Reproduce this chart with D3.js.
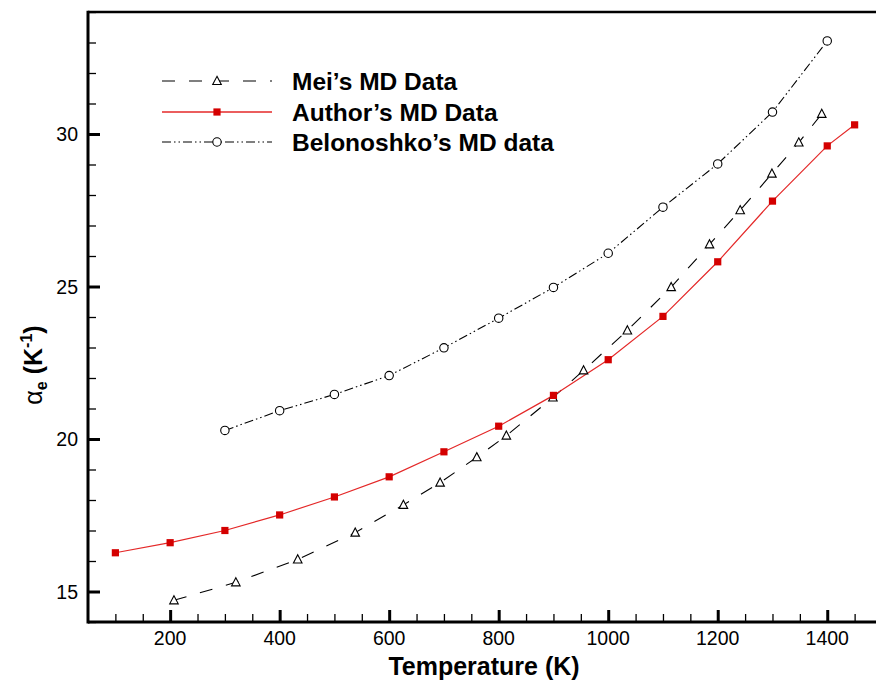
<!DOCTYPE html>
<html>
<head>
<meta charset="utf-8">
<script src="https://cdn.jsdelivr.net/npm/d3@7"></script>
<style>
  html, body { margin: 0; padding: 0; background: #fff; }
  svg { display: block; font-family: "Liberation Sans", Arial, sans-serif; }
</style>
</head>
<body>
<svg id="chart" width="876" height="682"></svg>
<script>
// ---- Data ----
const meiT = [207, 320, 433, 538, 626, 693, 760, 814, 899, 955, 1035, 1115, 1185, 1241, 1299, 1348, 1390];
const meiV = [14.71, 15.30, 16.05, 16.93, 17.84, 18.57, 19.40, 20.11, 21.36, 22.25, 23.56, 24.98, 26.38, 27.50, 28.70, 29.72, 30.66];

const authorT = [100, 200, 300, 400, 500, 600, 700, 800, 900, 1000, 1100, 1200, 1300, 1400, 1450];
const authorV = [16.27, 16.60, 17.00, 17.51, 18.10, 18.76, 19.58, 20.42, 21.43, 22.60, 24.02, 25.81, 27.80, 29.61, 30.30];

const belT = [300, 400, 500, 600, 700, 800, 900, 1000, 1100, 1200, 1300, 1400];
const belV = [20.28, 20.93, 21.46, 22.08, 22.99, 23.96, 24.97, 26.09, 27.60, 29.02, 30.72, 33.05];

const xTickValues = [200, 400, 600, 800, 1000, 1200, 1400];
const yTickValues = [15, 20, 25, 30];
const legendLabels = ["Mei\u2019s MD Data", "Author\u2019s MD Data", "Belonoshko\u2019s MD data"];

// ---- Layout ----
const svg = d3.select("#chart");
const pL = 88, pR = 882, pT = 12, pB = 622;
const x = d3.scaleLinear().domain([50, 1500]).range([pL, pR]);
const y = d3.scaleLinear().domain([14, 34]).range([pB, pT]);

const zip = (a, b) => a.map((t, i) => [t, b[i]]);
const mei = zip(meiT, meiV), author = zip(authorT, authorV), bel = zip(belT, belV);

const line = d3.line().x(d => x(d[0])).y(d => y(d[1])).curve(d3.curveLinear);
const g = svg.append("g");

// Series lines
g.append("path").datum(bel).attr("d", line).attr("fill", "none")
  .attr("stroke", "#000").attr("stroke-width", 1.1).attr("stroke-dasharray", "9,3,1.5,3,1.5,3");
g.append("path").datum(mei).attr("d", line).attr("fill", "none")
  .attr("stroke", "#000").attr("stroke-width", 1.1).attr("stroke-dasharray", "13,14");
g.append("path").datum(author).attr("d", line).attr("fill", "none")
  .attr("stroke", "#e42828").attr("stroke-width", 1.2);

// Markers
const triPath = (cx, cy, s) => `M${cx},${cy - s * 0.6}L${cx + s * 0.55},${cy + s * 0.45}L${cx - s * 0.55},${cy + s * 0.45}Z`;
g.selectAll(".tri").data(mei).enter().append("path").attr("class", "tri")
  .attr("d", d => triPath(x(d[0]), y(d[1]), 7.8))
  .attr("fill", "#fff").attr("stroke", "#000").attr("stroke-width", 1.1);
g.selectAll(".circ").data(bel).enter().append("circle").attr("class", "circ")
  .attr("cx", d => x(d[0])).attr("cy", d => y(d[1])).attr("r", 4.2)
  .attr("fill", "#fff").attr("stroke", "#000").attr("stroke-width", 1.1);
g.selectAll(".sq").data(author).enter().append("rect").attr("class", "sq")
  .attr("x", d => x(d[0]) - 3.6).attr("y", d => y(d[1]) - 3.6)
  .attr("width", 7.2).attr("height", 7.2).attr("fill", "#d40000");

// Axes
const xAxis = d3.axisTop(x).tickValues(xTickValues).tickSize(12).tickFormat("");
const xMinor = d3.axisTop(x).tickValues(d3.range(100, 1500, 50).filter(v => v % 200 !== 0)).tickSize(8).tickFormat("");
const yAxis = d3.axisRight(y).tickValues(yTickValues).tickSize(12).tickFormat("");
const yMinor = d3.axisRight(y).tickValues(d3.range(14, 35, 1).filter(v => v % 5 !== 0)).tickSize(8).tickFormat("");

function styleAxis(sel, w) {
  sel.select(".domain").remove();
  sel.selectAll("line").attr("stroke", "#000").attr("stroke-width", w);
}
svg.append("g").attr("transform", `translate(0,${pB})`).call(xAxis).call(s => styleAxis(s, 3));
svg.append("g").attr("transform", `translate(0,${pB})`).call(xMinor).call(s => styleAxis(s, 1.3));
svg.append("g").attr("transform", `translate(${pL},0)`).call(yAxis).call(s => styleAxis(s, 3));
svg.append("g").attr("transform", `translate(${pL},0)`).call(yMinor).call(s => styleAxis(s, 1.3));

// Frame lines
svg.append("line").attr("x1", pL).attr("x2", 876).attr("y1", pB).attr("y2", pB).attr("stroke", "#000").attr("stroke-width", 3);
svg.append("line").attr("x1", pL).attr("x2", 876).attr("y1", pT).attr("y2", pT).attr("stroke", "#000").attr("stroke-width", 2.5);
svg.append("line").attr("x1", pL).attr("x2", pL).attr("y1", pT - 1.2).attr("y2", pB + 1.5).attr("stroke", "#000").attr("stroke-width", 3);

// Tick labels
svg.append("g").selectAll("text").data(xTickValues).enter().append("text")
  .attr("x", d => x(d)).attr("y", 645).attr("text-anchor", "middle")
  .attr("font-size", 19.5).attr("fill", "#000").text(d => d);
svg.append("g").selectAll("text").data(yTickValues).enter().append("text")
  .attr("x", 78).attr("y", d => y(d) + 7).attr("text-anchor", "end")
  .attr("font-size", 19.5).attr("fill", "#000").text(d => d);

// Axis titles
svg.append("text").attr("x", 484).attr("y", 675).attr("text-anchor", "middle")
  .attr("font-size", 25).attr("font-weight", "bold").text("Temperature (K)");

const yt = svg.append("text").attr("transform", "translate(42,365) rotate(-90)")
  .attr("text-anchor", "middle").attr("font-size", 25).attr("font-weight", "bold");
yt.append("tspan").attr("font-weight", "normal").text("\u03b1");
yt.append("tspan").attr("font-size", 16).attr("dy", 5).text("e");
yt.append("tspan").attr("dy", -5).text(" (K");
yt.append("tspan").attr("font-size", 16).attr("dy", -10).text("-1");
yt.append("tspan").attr("dy", 10).text(")");

// Legend
const legY = [81, 112, 142];
const lg = svg.append("g");
lg.append("line").attr("x1", 162).attr("x2", 272).attr("y1", legY[0]).attr("y2", legY[0])
  .attr("stroke", "#000").attr("stroke-width", 1.1).attr("stroke-dasharray", "13,14");
lg.append("path").attr("d", triPath(217, legY[0], 7.8)).attr("fill", "#fff").attr("stroke", "#000").attr("stroke-width", 1.1);
lg.append("line").attr("x1", 162).attr("x2", 272).attr("y1", legY[1]).attr("y2", legY[1])
  .attr("stroke", "#e42828").attr("stroke-width", 1.3);
lg.append("rect").attr("x", 217 - 3.6).attr("y", legY[1] - 3.6).attr("width", 7.2).attr("height", 7.2).attr("fill", "#d40000");
lg.append("line").attr("x1", 162).attr("x2", 272).attr("y1", legY[2]).attr("y2", legY[2])
  .attr("stroke", "#000").attr("stroke-width", 1.1).attr("stroke-dasharray", "9,3,1.5,3,1.5,3");
lg.append("circle").attr("cx", 217).attr("cy", legY[2]).attr("r", 4.2).attr("fill", "#fff").attr("stroke", "#000").attr("stroke-width", 1.1);
lg.selectAll("text").data(legendLabels).enter().append("text")
  .attr("x", 292).attr("y", (d, i) => legY[i] + 8.5)
  .attr("font-size", 24.5).attr("font-weight", "bold").text(d => d);
</script>
</body>
</html>
